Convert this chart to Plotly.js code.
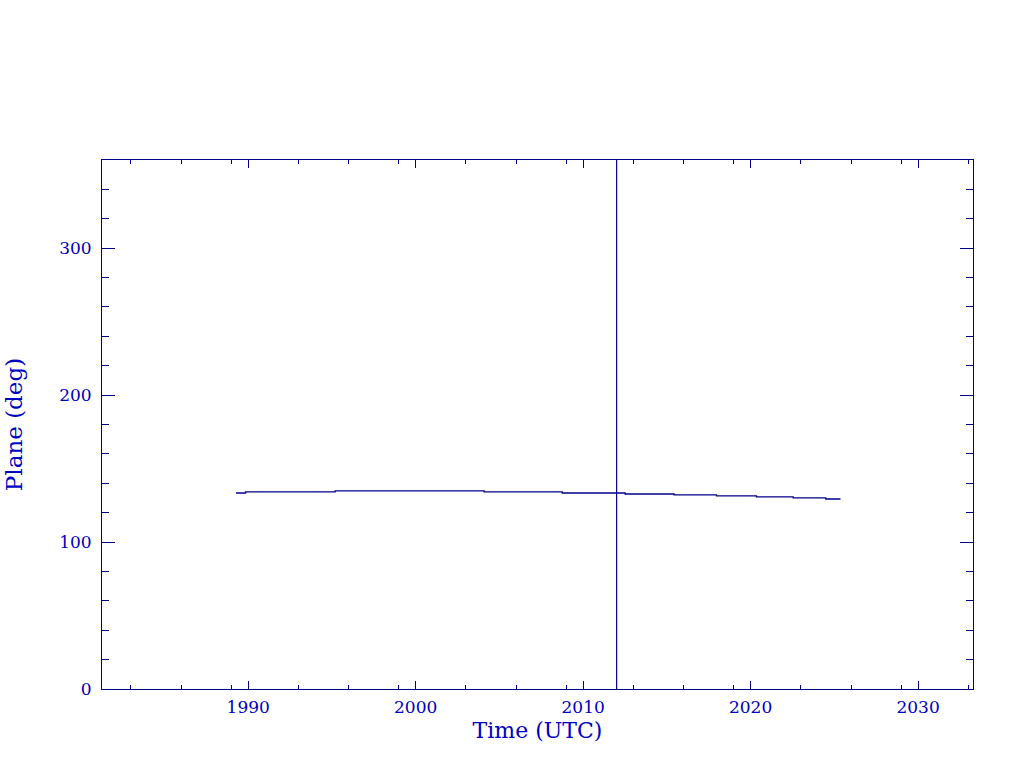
<!DOCTYPE html>
<html>
<head>
<meta charset="utf-8">
<script src="https://cdn.plot.ly/plotly-3.0.1.min.js"></script>
<style>
html,body{margin:0;padding:0;background:#fff;}
#chart{width:1024px;height:768px;}
</style>
</head>
<body>
<div id="chart"></div>
<script>
// Data (time in decimal years, plane in degrees)
var timeYears = [1989.27, 1989.84, 1995.19, 2004.09, 2008.75, 2012.51, 2015.43, 2017.96, 2020.35, 2022.54, 2024.49, 2025.37];
var planeDeg  = [133.4, 134.1, 134.8, 134.1, 133.4, 132.7, 132.1, 131.4, 130.7, 130.0, 129.3, 129.3];

// Vertical marker (current epoch)
var markerX = [2012.0, 2012.0];
var markerY = [0, 360];

// Axis ticks
var xMajorTicks = [1990, 2000, 2010, 2020, 2030];
var xMajorLabels = ['1990', '2000', '2010', '2020', '2030'];
var xMinorTicks = [1983, 1986, 1989, 1993, 1996, 1999, 2003, 2006, 2009, 2013, 2016, 2019, 2023, 2026, 2029, 2033];
var yMajorTicks = [0, 100, 200, 300];
var yMajorLabels = ['0', '100', '200', '300'];

var lineColor = '#00008b';
var textColor = '#0000c0';
var fontFamily = '"DejaVu Serif", "Liberation Serif", serif';

var traces = [
  {
    x: timeYears, y: planeDeg, type: 'scatter', mode: 'lines',
    line: {color: lineColor, width: 1.3, shape: 'hv'},
    hoverinfo: 'skip'
  },
  {
    x: markerX, y: markerY, type: 'scatter', mode: 'lines',
    line: {color: lineColor, width: 1.2},
    hoverinfo: 'skip'
  }
];

var layout = {
  width: 1024, height: 768,
  margin: {l: 102, r: 51, t: 160, b: 79, pad: 0},
  paper_bgcolor: '#ffffff', plot_bgcolor: '#ffffff',
  showlegend: false,
  font: {family: fontFamily, color: textColor, size: 17},
  xaxis: {
    range: [1981.27, 2033.28],
    tickmode: 'array', tickvals: xMajorTicks, ticktext: xMajorLabels,
    ticks: 'inside', ticklen: 8, tickwidth: 1, tickcolor: lineColor,
    showline: true, linecolor: lineColor, linewidth: 1, mirror: 'allticks',
    showgrid: false, zeroline: false,
    tickfont: {family: fontFamily, color: textColor, size: 17},
    ticklabelstandoff: 3,
    minor: {tickmode: 'array', tickvals: xMinorTicks, ticks: 'inside', ticklen: 4, tickwidth: 1, tickcolor: lineColor, showgrid: false},
    title: {text: 'Time (UTC)', font: {family: fontFamily, color: textColor, size: 22}, standoff: 6}
  },
  yaxis: {
    range: [0, 360],
    tickmode: 'array', tickvals: yMajorTicks, ticktext: yMajorLabels,
    ticks: 'inside', ticklen: 13, tickwidth: 1, tickcolor: lineColor,
    showline: true, linecolor: lineColor, linewidth: 1, mirror: 'allticks',
    showgrid: false, zeroline: false,
    tickfont: {family: fontFamily, color: textColor, size: 17},
    ticklabelstandoff: 6,
    minor: {dtick: 20, tick0: 0, ticks: 'inside', ticklen: 7, tickwidth: 1, tickcolor: lineColor, showgrid: false},
    title: {text: 'Plane (deg)', font: {family: fontFamily, color: textColor, size: 23}, standoff: 30}
  }
};

Plotly.newPlot('chart', traces, layout, {staticPlot: true, displayModeBar: false});
</script>
</body>
</html>
